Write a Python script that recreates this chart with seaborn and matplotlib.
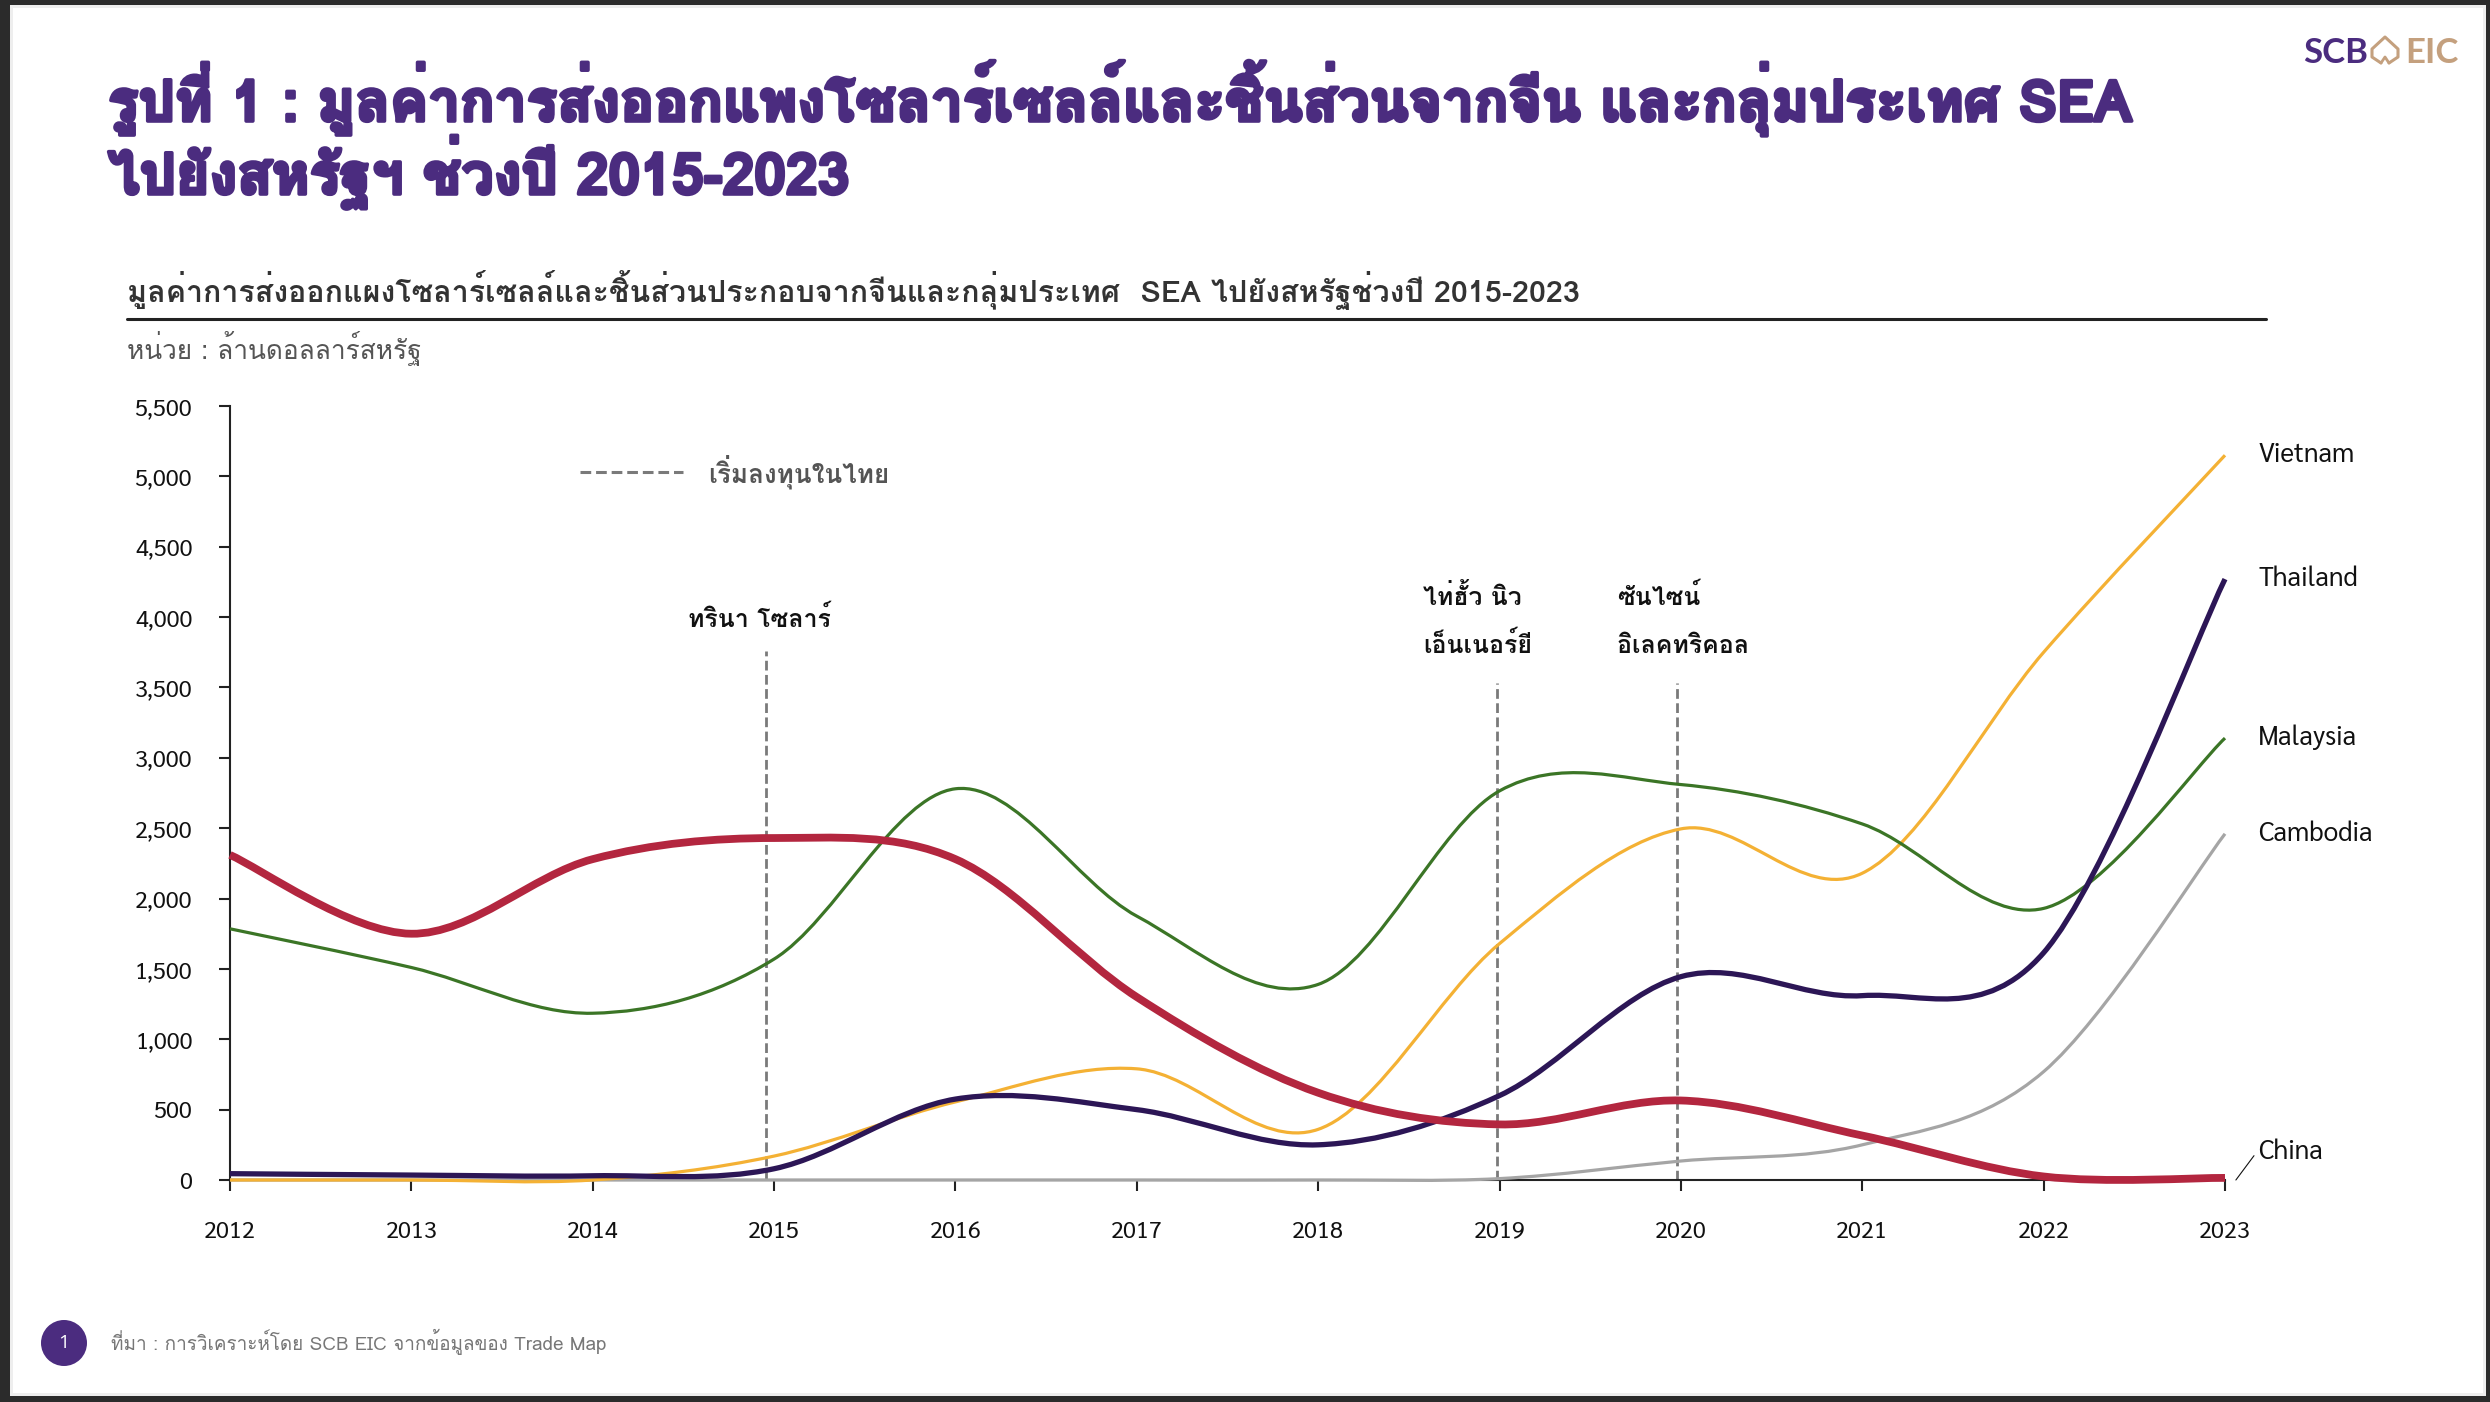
import matplotlib
matplotlib.use("Agg")
import matplotlib.pyplot as plt
import matplotlib.patheffects as pe
import seaborn as sns
import pandas as pd
import numpy as np
from matplotlib.path import Path
from matplotlib.patches import PathPatch, Circle, Rectangle
from matplotlib.lines import Line2D
from matplotlib import font_manager

# ---------------- data ----------------
years = [2012, 2013, 2014, 2015, 2016, 2017, 2018, 2019, 2020, 2021, 2022, 2023]
china = [2310, 1750, 2280, 2430, 2280, 1300, 620, 395, 565, 316, 25, 15]
malaysia = [1785, 1510, 1185, 1570, 2780, 1875, 1390, 2765, 2810, 2530, 1930, 3140]
thailand = [45, 35, 30, 80, 575, 500, 250, 600, 1445, 1310, 1615, 4270]
vietnam = [0, 0, 0, 170, 555, 790, 360, 1680, 2495, 2180, 3750, 5150]
cambodia = [0, 0, 0, 0, 0, 0, 0, 10, 135, 250, 770, 2460]
countries = ["Cambodia", "Vietnam", "Malaysia", "Thailand", "China"]
series = {"China": china, "Malaysia": malaysia, "Thailand": thailand,
          "Vietnam": vietnam, "Cambodia": cambodia}
yticks = list(range(0, 5501, 500))
invest_years = [2015, 2019, 2020]
invest_tops = [3760, 3530, 3530]
invest_labels = ["ทรินา โซลาร์", "ไท่ฮั้ว นิว\nเอ็นเนอร์ยี", "ซันไซน์\nอิเลคทริคอล"]

title_1 = "รูปที่ 1 : มูลค่าการส่งออกแพงโซลาร์เซลล์และชิ้นส่วนจากจีน และกลุ่มประเทศ SEA"
title_2 = "ไปยังสหรัฐฯ ช่วงปี 2015-2023"
subtitle = "มูลค่าการส่งออกแผงโซลาร์เซลล์และชิ้นส่วนประกอบจากจีนและกลุ่มประเทศ  SEA ไปยังสหรัฐช่วงปี 2015-2023"
unit_text = "หน่วย : ล้านดอลลาร์สหรัฐ"
legend_text = "เริ่มลงทุนในไทย"
source_text = "ที่มา : การวิเคราะห์โดย SCB EIC จากข้อมูลของ Trade Map"

# ---------------- style ----------------
colors = {"China": "#B3263F", "Malaysia": "#3B7526", "Thailand": "#2C1656",
          "Vietnam": "#F4B134", "Cambodia": "#A5A5A5"}
widths = {"China": 5.6, "Malaysia": 2.3, "Thailand": 3.8,
          "Vietnam": 2.3, "Cambodia": 2.3}
PURPLE = "#4B2C7F"
TAN = "#C4A07E"

avail = {f.name for f in font_manager.fontManager.ttflist}
def pick(*names):
    for n in names:
        if n in avail:
            return n
    return "DejaVu Sans"

# Loma positions Thai tone marks correctly without OpenType shaping
THAI_FONT = pick("Loma", "Sarabun")
LATIN_FONT = pick("Sarabun", "Open Sans", "DejaVu Sans")
THAI = [THAI_FONT, "DejaVu Sans"]

sns.set_theme(style="white")
plt.rcParams["font.family"] = [LATIN_FONT, "DejaVu Sans"]

W, H = 2490, 1402
fig = plt.figure(figsize=(W / 100, H / 100), dpi=100)
fig.patch.set_facecolor("white")
renderer = fig.canvas.get_renderer()

ax_l, ax_r, ax_b, ax_t = 230, 2225, 1180, 406
ax = fig.add_axes([ax_l / W, 1 - ax_b / H, (ax_r - ax_l) / W, (ax_b - ax_t) / H])
ax.set_facecolor("white")

df = pd.DataFrame([
    {"year": y, "value": v, "country": c}
    for c in countries for y, v in zip(years, series[c])
])

sns.lineplot(data=df, x="year", y="value", hue="country", hue_order=countries,
             palette=colors, size="country", size_order=countries, sizes=widths,
             legend=False, sort=False, ax=ax)


def smooth_path(xy):
    P = np.asarray(xy, dtype=float)
    n = len(P)
    verts = [P[0]]
    codes = [Path.MOVETO]
    for i in range(n - 1):
        p0 = P[i - 1] if i > 0 else P[i]
        p1 = P[i]
        p2 = P[i + 1]
        p3 = P[i + 2] if i + 2 < n else P[i + 1]
        c1 = p1 + (p2 - p0) / 6.0
        c2 = p2 - (p3 - p1) / 6.0
        verts += [c1, c2, p2]
        codes += [Path.CURVE4] * 3
    return Path(verts, codes)

# seaborn's straight segments -> smooth curves (Excel-like smoothing)
for ln in list(ax.lines):
    xy = ln.get_xydata()
    patch = PathPatch(smooth_path(xy), facecolor="none", edgecolor=ln.get_color(),
                      linewidth=ln.get_linewidth(), capstyle="butt",
                      joinstyle="round", clip_on=False, zorder=3)
    ax.add_patch(patch)
    ln.remove()

ax.set_xlim(years[0], years[-1])
ax.set_ylim(0, 5500)
ax.set_xticks(years)
ax.set_xticklabels([str(y) for y in years])
ax.set_yticks(yticks)
ax.set_yticklabels([f"{v:,}" for v in yticks])
ax.set_xlabel("")
ax.set_ylabel("")
for s in ["top", "right"]:
    ax.spines[s].set_visible(False)
for s in ["left", "bottom"]:
    ax.spines[s].set_color("#222222")
    ax.spines[s].set_linewidth(1.5)
ax.tick_params(axis="y", direction="out", length=8, width=1.5, color="#222222",
               pad=19, labelsize=17, labelcolor="#111111", left=True)
ax.tick_params(axis="x", direction="out", length=8, width=1.5, color="#222222",
               pad=21, labelsize=17, labelcolor="#111111", bottom=True)
ax.grid(False)


def fit(t, target_w):
    bb = t.get_window_extent(renderer=renderer)
    t.set_fontsize(t.get_fontsize() * target_w / bb.width)

# investment dashed lines + labels
for yr, top, off in zip(invest_years, invest_tops, [-0.046, -0.014, -0.023]):
    ax.plot([yr + off, yr + off], [0, top], color="#7a7a7a", lw=2.0,
            ls=(0, (3.5, 1.6)), zorder=2)
lab0 = ax.text(invest_years[0] - 0.08, 3930, invest_labels[0], ha="center",
               va="baseline", fontsize=20, fontweight="bold", color="#111111",
               family=THAI)
fit(lab0, 143)
lfs = lab0.get_fontsize()
for yr, lab, dx in zip(invest_years[1:], invest_labels[1:], [-0.42, -0.35]):
    l1, l2 = lab.split("\n")
    ax.text(yr + dx, 4086, l1, ha="left", va="baseline", fontsize=lfs,
            fontweight="bold", color="#111111", family=THAI)
    ax.text(yr + dx, 3745, l2, ha="left", va="baseline", fontsize=lfs,
            fontweight="bold", color="#111111", family=THAI)

# legend for dashed line
ax.add_line(Line2D([0.1754, 0.2271], [0.9147, 0.9147], transform=ax.transAxes,
                   color="#7a7a7a", lw=2.2, ls=(0, (3.5, 1.6))))
lt = ax.text(0.2396, 0.9147, legend_text, transform=ax.transAxes, ha="left",
             va="center", fontsize=19, fontweight="bold", color="#555555",
             family=THAI)
fit(lt, 181)

# end labels
for c in ["Vietnam", "Thailand", "Malaysia", "Cambodia"]:
    ax.annotate(c, xy=(years[-1], series[c][-1]), xytext=(24, 0),
                textcoords="offset points", ha="left", va="center",
                fontsize=19, color="#111111", annotation_clip=False)
ax.annotate("China", xy=(years[-1] + 0.06, series["China"][-1] - 15), xytext=(16, 20.5),
            textcoords="offset points", ha="left", va="center", fontsize=19,
            color="#111111", annotation_clip=False,
            arrowprops=dict(arrowstyle="-", color="#111111", lw=0.8,
                            shrinkA=1, shrinkB=0, relpos=(0, 0.55)))

# ---------------- header text ----------------
heavy = [pe.withStroke(linewidth=2.6, foreground=PURPLE)]
t1 = fig.text(108 / W, 1 - 121 / H, title_1, ha="left", va="baseline",
              fontsize=40, fontweight="bold", color=PURPLE, family=THAI,
              path_effects=heavy)
fit(t1, 2025)
t2 = fig.text(108 / W, 1 - 194 / H, title_2, ha="left", va="baseline",
              fontsize=t1.get_fontsize(), fontweight="bold", color=PURPLE,
              family=THAI, path_effects=heavy)

st = fig.text(127 / W, 1 - 302 / H, subtitle, ha="left", va="baseline",
              fontsize=22, fontweight="bold", color="#333333", family=THAI)
fit(st, 1453)
fig.add_artist(Line2D([127 / W, 2266 / W], [1 - 319 / H, 1 - 319 / H],
                      transform=fig.transFigure, color="#222222", lw=2.2))
ut = fig.text(127 / W, 1 - 359 / H, unit_text, ha="left", va="baseline",
              fontsize=18, color="#555555", family=THAI)
fit(ut, 295)

# logo
fig.text(2303 / W, 1 - 63 / H, "SCB", ha="left", va="baseline", fontsize=25,
         fontweight="bold", color=PURPLE, family=["Lato", "DejaVu Sans"])
fig.text(2405 / W, 1 - 63 / H, "EIC", ha="left", va="baseline", fontsize=25,
         fontweight="bold", color=TAN, family=["Lato", "DejaVu Sans"])
icon = [(2381, 63), (2372, 57), (2372, 49), (2385, 37), (2398, 49), (2398, 57),
        (2389, 63)]
fig.add_artist(Line2D([p[0] / W for p in icon], [1 - p[1] / H for p in icon],
                      transform=fig.transFigure, color=TAN, lw=2.2))
fig.add_artist(Line2D([2381 / W, 2385 / W, 2389 / W],
                      [1 - 63 / H, 1 - 57 / H, 1 - 63 / H],
                      transform=fig.transFigure, color=TAN, lw=2.0))

# footer
fig.add_artist(Circle((0.64, (H - 1343) / 100), 0.23, transform=fig.dpi_scale_trans,
                      facecolor=PURPLE, edgecolor="none"))
fig.text(64 / W, 1 - 1343 / H, "1", ha="center", va="center", fontsize=14,
         color="white", family=["Open Sans", "DejaVu Sans"])
ft = fig.text(111 / W, 1 - 1350 / H, source_text, ha="left", va="baseline",
              fontsize=14, color="#777777", family=THAI)
fit(ft, 495)

# frame of the screenshot
for (x0, y0, w, h) in [(0, 0, W, 5), (0, 0, 10, H), (0, H - 6, W, 6), (W - 4, 0, 4, H)]:
    fig.add_artist(Rectangle((x0 / W, 1 - (y0 + h) / H), w / W, h / H,
                             transform=fig.transFigure, facecolor="#2b2b2b",
                             edgecolor="none"))
for (x0, y0, w, h) in [(10, 5, W - 14, 3), (10, 5, 3, H - 11), (10, H - 9, W - 14, 3),
                       (W - 7, 5, 3, H - 11)]:
    fig.add_artist(Rectangle((x0 / W, 1 - (y0 + h) / H), w / W, h / H,
                             transform=fig.transFigure, facecolor="#eeeeee",
                             edgecolor="none"))

fig.savefig("out.png", dpi=100, facecolor="white")
